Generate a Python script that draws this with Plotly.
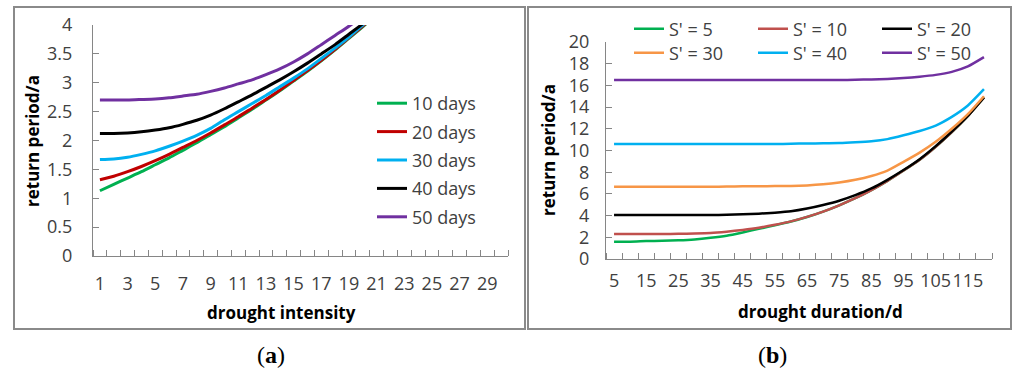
import plotly.graph_objects as go

W, H = 1013, 373

# ---------------- data: panel (a) ----------------
intensity = [1, 2, 3, 4, 5, 6, 7, 8, 9, 10, 11, 12, 13, 14, 15, 16, 17, 18, 19, 20, 21]
intensity_ticks = [1, 3, 5, 7, 9, 11, 13, 15, 17, 19, 21, 23, 25, 27, 29]
a_names = ["10 days", "20 days", "30 days", "40 days", "50 days"]
a_10 = [1.13, 1.24, 1.35, 1.46, 1.58, 1.70, 1.83, 1.96, 2.10, 2.24, 2.39, 2.54, 2.70, 2.86, 3.03, 3.20, 3.38, 3.57, 3.77, 3.97, 4.18]
a_20 = [1.32, 1.38, 1.46, 1.55, 1.65, 1.76, 1.88, 2.00, 2.13, 2.27, 2.41, 2.56, 2.71, 2.87, 3.04, 3.21, 3.39, 3.58, 3.78, 3.98, 4.19]
a_30 = [1.67, 1.68, 1.71, 1.76, 1.82, 1.90, 1.99, 2.09, 2.21, 2.36, 2.50, 2.64, 2.78, 2.93, 3.08, 3.24, 3.42, 3.60, 3.79, 4.00, 4.21]
a_40 = [2.12, 2.12, 2.13, 2.15, 2.18, 2.22, 2.28, 2.35, 2.44, 2.55, 2.67, 2.79, 2.92, 3.05, 3.19, 3.34, 3.50, 3.66, 3.84, 4.02, 4.21]
a_50 = [2.70, 2.70, 2.70, 2.71, 2.72, 2.74, 2.77, 2.80, 2.85, 2.91, 2.98, 3.05, 3.14, 3.24, 3.36, 3.50, 3.66, 3.82, 3.98, 4.15, 4.33]
a_colors = ["#00B050", "#C00000", "#00B0F0", "#000000", "#7030A0"]

# ---------------- data: panel (b) ----------------
duration = [5, 10, 15, 20, 25, 30, 35, 40, 45, 50, 55, 60, 65, 70, 75, 80, 85, 90, 95, 100, 105, 110, 115, 120]
duration_ticks = [5, 15, 25, 35, 45, 55, 65, 75, 85, 95, 105, 115]
b_names = ["S' = 5", "S' = 10", "S' = 20", "S' = 30", "S' = 40", "S' = 50"]
b_5 = [1.60, 1.60, 1.65, 1.68, 1.72, 1.80, 1.95, 2.15, 2.45, 2.78, 3.10, 3.45, 3.87, 4.37, 4.95, 5.60, 6.35, 7.20, 8.15, 9.15, 10.35, 11.70, 13.20, 14.90]
b_10 = [2.30, 2.30, 2.30, 2.30, 2.32, 2.35, 2.40, 2.52, 2.68, 2.88, 3.15, 3.47, 3.88, 4.37, 4.95, 5.60, 6.35, 7.20, 8.15, 9.15, 10.35, 11.70, 13.20, 14.90]
b_20 = [4.05, 4.05, 4.05, 4.05, 4.05, 4.05, 4.05, 4.08, 4.12, 4.18, 4.27, 4.40, 4.65, 4.98, 5.37, 5.88, 6.50, 7.30, 8.20, 9.20, 10.40, 11.75, 13.20, 14.90]
b_30 = [6.65, 6.65, 6.65, 6.65, 6.65, 6.65, 6.65, 6.68, 6.70, 6.70, 6.72, 6.73, 6.78, 6.88, 7.05, 7.30, 7.65, 8.15, 8.95, 9.80, 10.80, 12.00, 13.35, 15.00]
b_40 = [10.60, 10.60, 10.60, 10.60, 10.60, 10.60, 10.60, 10.60, 10.60, 10.60, 10.60, 10.62, 10.65, 10.66, 10.68, 10.75, 10.85, 11.05, 11.40, 11.80, 12.30, 13.10, 14.15, 15.65]
b_50 = [16.50, 16.50, 16.50, 16.50, 16.50, 16.50, 16.50, 16.50, 16.50, 16.50, 16.50, 16.50, 16.50, 16.50, 16.50, 16.52, 16.55, 16.60, 16.68, 16.80, 16.97, 17.25, 17.75, 18.60]
b_colors = ["#00B050", "#C0504D", "#000000", "#F79646", "#00B0F0", "#7030A0"]

FONT = "Open Sans"
TICKCOL = "#404040"
AXCOL = "#868686"

def px(x):
    return x / W

def py(y):
    return 1 - y / H

fig = go.Figure()

for name, ys, col in zip(a_names, [a_10, a_20, a_30, a_40, a_50], a_colors):
    fig.add_trace(go.Scatter(x=intensity, y=ys, mode="lines", name=name,
                             line=dict(color=col, width=3, shape="spline", smoothing=0.6),
                             xaxis="x", yaxis="y", legend="legend", legendgroup=name))

for i, (name, ys, col) in enumerate(zip(b_names, [b_5, b_10, b_20, b_30, b_40, b_50], b_colors)):
    fig.add_trace(go.Scatter(x=duration, y=ys, mode="lines", name=name,
                             line=dict(color=col, width=2.5, shape="spline", smoothing=0.6),
                             xaxis="x2", yaxis="y2", legend="legend2" if i < 3 else "legend3"))

axis_common = dict(showgrid=False, zeroline=False, showline=True, linecolor=AXCOL, linewidth=1,
                   tickfont=dict(family=FONT, size=18, color=TICKCOL), fixedrange=True,
                   automargin=False, tickangle=0)

fig.update_layout(
    template="none",
    width=W, height=H, margin=dict(l=0, r=0, t=0, b=0, pad=0, autoexpand=False),
    paper_bgcolor="white", plot_bgcolor="white",
    font=dict(family=FONT, color="#000"),
    xaxis=dict(domain=[px(93), px(508)], range=[0.5, 30.5], tickmode="array",
               tickvals=intensity_ticks, ticktext=[str(v) for v in intensity_ticks],
               ticks="", ticklabelstandoff=11, anchor="y",
               minor=dict(tickmode="linear", tick0=0.5, dtick=1, ticks="inside", ticklen=6,
                          tickcolor=AXCOL, tickwidth=1), **axis_common),
    yaxis=dict(domain=[py(256), py(25)], range=[0, 4], tickmode="linear", tick0=0, dtick=0.5,
               ticks="inside", ticklen=6, tickcolor=AXCOL, ticklabelstandoff=16, anchor="x",
               **axis_common),
    xaxis2=dict(domain=[px(606), px(992)], range=[2.5, 122.5], tickmode="array",
                tickvals=duration_ticks, ticktext=[str(v) for v in duration_ticks],
                ticks="", ticklabelstandoff=5, anchor="y2",
                minor=dict(tickmode="linear", tick0=2.5, dtick=5, ticks="inside", ticklen=6,
                           tickcolor=AXCOL, tickwidth=1), **axis_common),
    yaxis2=dict(domain=[py(259), py(42)], range=[0, 20], tickmode="linear", tick0=0, dtick=2,
                ticks="inside", ticklen=6, tickcolor=AXCOL, ticklabelstandoff=12, anchor="x2",
                **axis_common),
    legend=dict(x=px(372), y=py(85), xanchor="left", yanchor="top", orientation="v",
                font=dict(family=FONT, size=18, color=TICKCOL), bgcolor="rgba(0,0,0,0)",
                tracegroupgap=2, itemclick=False, itemdoubleclick=False),
    legend2=dict(x=px(629), y=py(29), xanchor="left", yanchor="middle", orientation="h",
                 font=dict(family=FONT, size=18, color=TICKCOL), bgcolor="rgba(0,0,0,0)",
                 entrywidth=79, entrywidthmode="pixels"),
    legend3=dict(x=px(629), y=py(53), xanchor="left", yanchor="middle", orientation="h",
                 font=dict(family=FONT, size=18, color=TICKCOL), bgcolor="rgba(0,0,0,0)",
                 entrywidth=79, entrywidthmode="pixels"),
)

# panel frames
for x0, x1 in [(14, 525), (528, 1011)]:
    fig.add_shape(type="rect", xref="paper", yref="paper", x0=px(x0), x1=px(x1), y0=py(329), y1=py(7),
                  line=dict(color="#8a8a8a", width=2), fillcolor="rgba(0,0,0,0)", layer="below")

ann = [
    dict(text="<b>return period/a</b>", x=px(32), y=py(141), textangle=-90, size=17),
    dict(text="<b>drought intensity</b>", x=px(281), y=py(312), textangle=0, size=17),
    dict(text="<b>return period/a</b>", x=px(548), y=py(150), textangle=-90, size=17),
    dict(text="<b>drought duration/d</b>", x=px(820), y=py(311), textangle=0, size=17),
]
for a in ann:
    fig.add_annotation(text=a["text"], x=a["x"], y=a["y"], xref="paper", yref="paper",
                       showarrow=False, textangle=a["textangle"], xanchor="center", yanchor="middle",
                       font=dict(family=FONT, size=a["size"], color="#000"))

for lab, xc in [("(<b>a</b>)", 271), ("(<b>b</b>)", 772)]:
    fig.add_annotation(text=lab, x=px(xc), y=py(355), xref="paper", yref="paper", showarrow=False,
                       xanchor="center", yanchor="middle",
                       font=dict(family="Liberation Serif", size=24, color="#000"))

fig.write_html("out.html", config={"displayModeBar": False},
               post_script="document.body.style.margin='0';document.body.style.overflow='hidden';")
